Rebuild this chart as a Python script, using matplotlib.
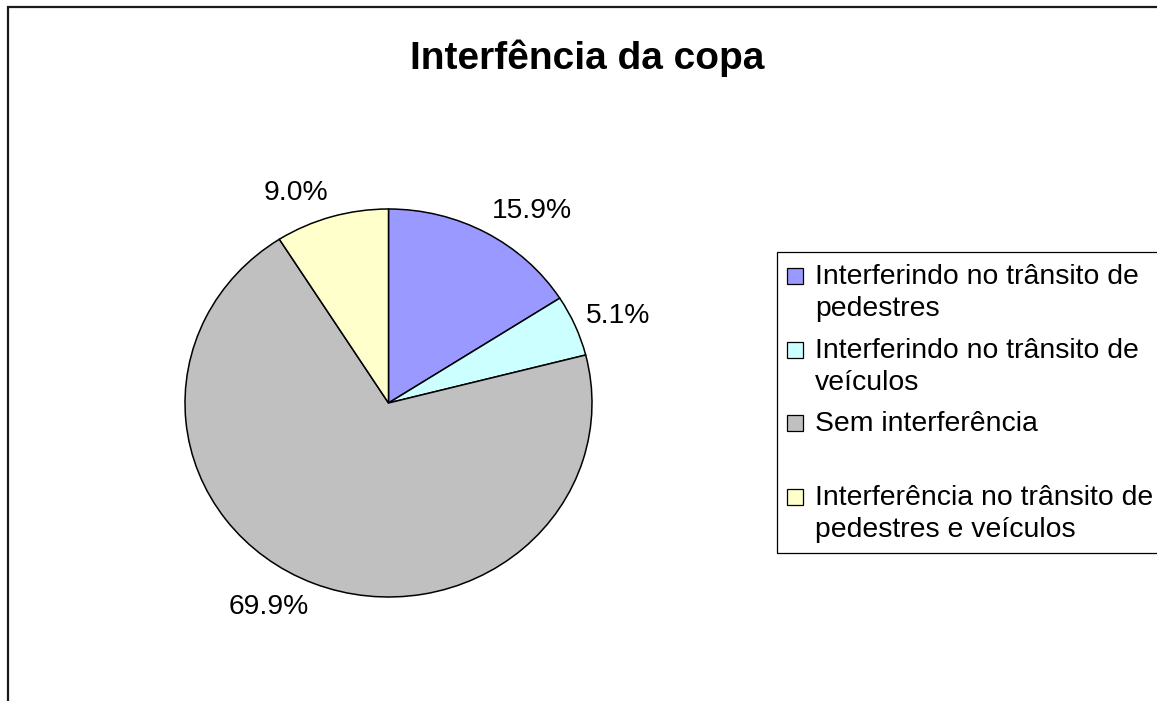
import matplotlib
matplotlib.use('Agg')
import matplotlib.pyplot as plt
import matplotlib.patches as patches
import numpy as np

plt.rcParams['font.family'] = ['Liberation Sans', 'DejaVu Sans']

# data
categories = ['Interferindo no trânsito de\npedestres',
              'Interferindo no trânsito de\nveículos',
              'Sem interferência',
              'Interferência no trânsito de\npedestres e veículos']
values = [15.9, 5.1, 69.9, 9.0]
colors = ['#9999FF', '#CCFFFF', '#C0C0C0', '#FFFFCC']
title = 'Interfência da copa'

W, H = 1157, 701

def fx(x):
    return x / W

def fy(y):
    # pixel from top -> figure fraction
    return 1 - y / H

fig = plt.figure(figsize=(W / 100, H / 100), dpi=100)

# outer frame (only top / left visible, rest cropped)
fig.patches.append(patches.Rectangle((fx(7.5), fy(720)), fx(1200), 720 / H + fy(6.5) - 1,
                                     transform=fig.transFigure, fill=False,
                                     edgecolor='#1a1a1a', linewidth=1.6))

fig.text(fx(587), fy(69), title, ha='center', va='baseline',
         fontsize=28, fontweight='bold')

# pie (slightly wider than tall, as in the original)
ax = fig.add_axes([fx(185), fy(597), fx(407), 388 / H])
wedges, texts = ax.pie(values, colors=colors, startangle=90, counterclock=False,
                       labels=['%.1f%%' % v for v in values], labeldistance=1.06,
                       wedgeprops={'edgecolor': 'black', 'linewidth': 1.1},
                       textprops={'fontsize': 20.3})
for t in texts:
    x, y = t.get_position()
    t.set_position((x, y * 1.065))
ax.set_aspect('auto')
ax.set_xlim(-1, 1)
ax.set_ylim(-1, 1)
ax.axis('off')

# legend box, drawn by hand so the square sits on the first line
fig.patches.append(patches.Rectangle((fx(776.5), fy(553)), fx(500), (553 - 252) / H,
                                     transform=fig.transFigure, fill=False,
                                     edgecolor='black', linewidth=0.9))
base = 284
step = 73.7
line_gap = 32
for i in range(len(categories)):
    b = base + i * step
    fig.patches.append(patches.Rectangle((fx(787), fy(b)), fx(16), 16 / H,
                                         transform=fig.transFigure,
                                         facecolor=colors[i], edgecolor='black',
                                         linewidth=0.9))
    for j, line in enumerate(categories[i].split('\n')):
        fig.text(fx(815), fy(b + j * line_gap), line, ha='left', va='baseline',
                 fontsize=20.4)

plt.savefig('out.png', dpi=100)
